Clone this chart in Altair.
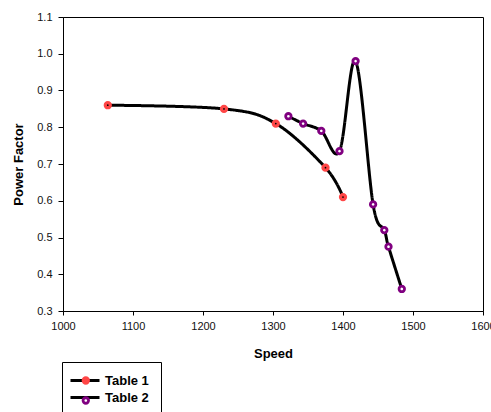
import altair as alt
import pandas as pd

# Measured operating points: speed (rpm) vs power factor
speed_t1 = [1064, 1230, 1304, 1375, 1400]
pf_t1 = [0.86, 0.85, 0.81, 0.69, 0.61]

speed_t2 = [1322, 1343, 1369, 1395, 1418, 1443, 1459, 1465, 1484]
pf_t2 = [0.83, 0.81, 0.79, 0.735, 0.98, 0.59, 0.52, 0.475, 0.36]

series_names = ["Table 1", "Table 2"]
x_ticks = [1000, 1100, 1200, 1300, 1400, 1500, 1600]
y_ticks = [0.3, 0.4, 0.5, 0.6, 0.7, 0.8, 0.9, 1.0, 1.1]

df = pd.concat([
    pd.DataFrame({"speed": speed_t1, "pf": pf_t1, "series": series_names[0]}),
    pd.DataFrame({"speed": speed_t2, "pf": pf_t2, "series": series_names[1]}),
], ignore_index=True)
df["curve"] = df["series"]

FONT = "Liberation Sans"

x_enc = alt.X(
    "speed:Q",
    scale=alt.Scale(domain=[1000, 1600], nice=False, zero=False),
    axis=alt.Axis(
        title="Speed", values=x_ticks, format="d",
        grid=False, tickSize=4, labelPadding=5, titlePadding=16,
        labelOverlap=False, labelFlush=False,
    ),
)
y_enc = alt.Y(
    "pf:Q",
    scale=alt.Scale(domain=[0.3, 1.1], nice=False, zero=False),
    axis=alt.Axis(
        title="Power Factor", values=y_ticks, tickCount=9,
        format=".1f", grid=False, tickSize=5, labelPadding=6, titlePadding=11,
        labelOverlap=False, labelFlush=False,
    ),
)

base = alt.Chart(df).encode(x=x_enc, y=y_enc)

# Smoothed connecting curves; their legend draws the black line segment
lines = base.mark_line(
    interpolate="cardinal", color="black", strokeWidth=3
).encode(
    strokeDash=alt.StrokeDash(
        "curve:N",
        scale=alt.Scale(range=[[1, 0], [1, 0]]),
        legend=alt.Legend(
            title=None, orient="none", legendX=-1, legendY=345,
            symbolType="M-2,0L3.8,0", symbolSize=100,
            symbolStrokeColor="black", symbolStrokeWidth=3,
            labelFont=FONT, labelFontSize=13, labelFontWeight="bold",
            labelColor="black", labelOffset=18, rowPadding=3,
            padding=12, strokeColor="black", fillColor="white",
            zindex=0,
        ),
    ),
)

# Markers: filled red for Table 1, hollow purple rings for Table 2
points = base.mark_point(size=30, strokeWidth=2.8, opacity=1).encode(
    fill=alt.Fill(
        "series:N",
        scale=alt.Scale(domain=series_names, range=["#FF4646", "white"]),
        legend=alt.Legend(
            title=None, orient="none", legendX=16.3, legendY=357,
            symbolSize=30, symbolStrokeWidth=2.8, symbolType="circle",
            labelFontSize=13, labelExpr="''", rowPadding=3, padding=0,
            zindex=1,
        ),
    ),
    stroke=alt.Stroke(
        "series:N",
        scale=alt.Scale(domain=series_names, range=["#FF4646", "#800080"]),
    ),
)

# Small dark centre dot on the Table 1 markers
dots = base.transform_filter(
    alt.datum.series == "Table 1"
).mark_point(filled=True, size=3, color="black", opacity=1)

chart = alt.layer(lines, points, dots).properties(
    width=420,
    height=294,
    autosize=alt.AutoSizeParams(type="none"),
    padding={"left": 63, "top": 17, "right": 8, "bottom": 101},
    background="white",
).configure_view(
    stroke="black", strokeWidth=1
).configure_axis(
    domainColor="black", tickColor="black",
    labelFont=FONT, labelFontSize=11, labelColor="#111",
    titleFont=FONT, titleFontSize=13, titleFontWeight="bold", titleColor="black",
)

chart.save("out.html", embed_options={"renderer": "svg", "actions": False})
